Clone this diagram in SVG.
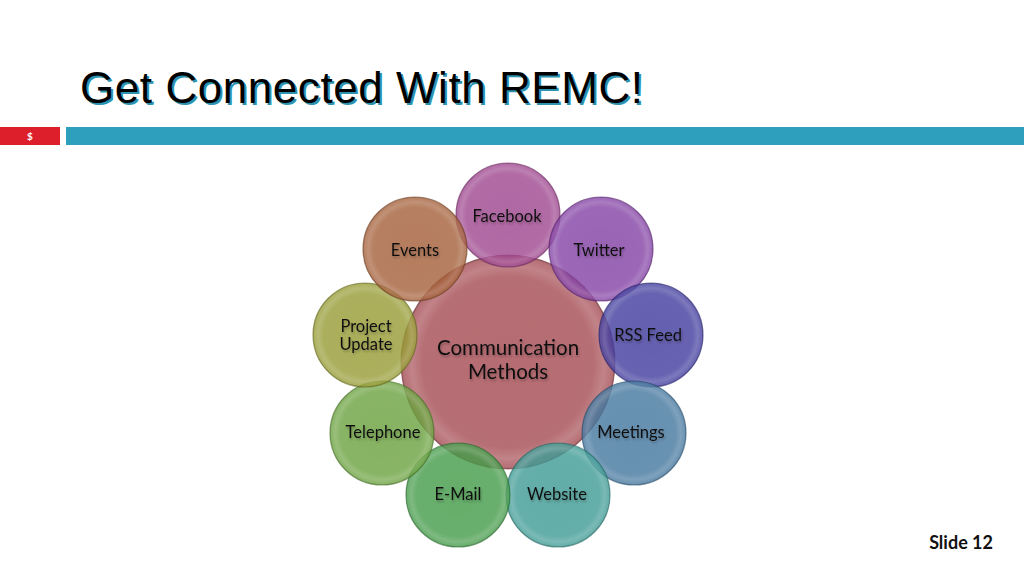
<svg xmlns="http://www.w3.org/2000/svg" width="1024" height="576" viewBox="0 0 1024 576">
<defs>
<radialGradient id="glass" cx="0.5" cy="0.5" r="0.5">
<stop offset="0" stop-color="#fff" stop-opacity="0"/>
<stop offset="0.8" stop-color="#fff" stop-opacity="0.02"/>
<stop offset="0.9" stop-color="#fff" stop-opacity="0.16"/>
<stop offset="0.97" stop-color="#fff" stop-opacity="0.05"/>
<stop offset="1" stop-color="#000" stop-opacity="0.15"/>
</radialGradient>
<filter id="glow" x="-20%" y="-40%" width="140%" height="180%">
<feGaussianBlur in="SourceAlpha" stdDeviation="1.2"/>
<feOffset dx="0.5" dy="1.5" result="b"/>
<feFlood flood-color="#000" flood-opacity="0.25"/>
<feComposite in2="b" operator="in"/>
<feMerge><feMergeNode/><feMergeNode in="SourceGraphic"/></feMerge>
</filter>
</defs>
<style>
.title{font-family:"Liberation Sans",Arial,sans-serif;font-size:44px}
.lbl{font-family:Lato,"Noto Sans",sans-serif;font-size:16.5px;fill:#111;text-anchor:middle}
.ctr{font-family:Lato,"Noto Sans",sans-serif;font-size:20.5px;fill:#111;text-anchor:middle}
.c{fill-opacity:0.8;stroke-width:1.2;stroke-opacity:0.6}
.g{fill:url(#glass)}
</style>
<rect width="1024" height="576" fill="#fff"/>
<g id="title">
<text class="title" x="82" y="105" fill="#2E93AE" textLength="563">Get Connected With REMC!</text>
<text class="title" x="80" y="103" fill="#000" textLength="563">Get Connected With REMC!</text>
</g>
<g id="bars">
<rect x="0" y="127" width="60" height="18" fill="#DC1F2B"/>
<text x="30" y="140" font-family="Lato,'Noto Sans',sans-serif" font-size="10" font-weight="bold" fill="#fff" text-anchor="middle">$</text>
<rect x="66" y="127" width="958" height="18" fill="#2EA0BE"/>
</g>
<g id="center">
<circle class="c" cx="508" cy="362" r="107" fill="#A2474F" stroke="#7a3038"/>
<circle class="g" cx="508" cy="362" r="107"/>
</g>
<g id="facebook">
<circle class="c" cx="508" cy="215" r="52" fill="#9C428C" stroke="#702a64"/>
<circle class="g" cx="508" cy="215" r="52"/>
</g>
<g id="twitter">
<circle class="c" cx="601" cy="249" r="52" fill="#813DA2" stroke="#5a2575"/>
<circle class="g" cx="601" cy="249" r="52"/>
</g>
<g id="rss">
<circle class="c" cx="651" cy="335" r="52" fill="#3D389C" stroke="#272370"/>
<circle class="g" cx="651" cy="335" r="52"/>
</g>
<g id="meetings">
<circle class="c" cx="634" cy="433" r="52" fill="#40749C" stroke="#2a5070"/>
<circle class="g" cx="634" cy="433" r="52"/>
</g>
<g id="website">
<circle class="c" cx="558" cy="495" r="52" fill="#3B9992" stroke="#276e69"/>
<circle class="g" cx="558" cy="495" r="52"/>
</g>
<g id="email">
<circle class="c" cx="458" cy="495" r="52" fill="#409945" stroke="#2a6e2e"/>
<circle class="g" cx="458" cy="495" r="52"/>
</g>
<g id="telephone">
<circle class="c" cx="382" cy="433" r="52" fill="#68A03B" stroke="#4a7528"/>
<circle class="g" cx="382" cy="433" r="52"/>
</g>
<g id="project">
<circle class="c" cx="365" cy="335" r="52" fill="#959A31" stroke="#6c7020"/>
<circle class="g" cx="365" cy="335" r="52"/>
</g>
<g id="events">
<circle class="c" cx="415" cy="249" r="52" fill="#A35D36" stroke="#774224"/>
<circle class="g" cx="415" cy="249" r="52"/>
</g>
<g id="labels" filter="url(#glow)">
<text class="ctr" x="508" y="355">Communication</text>
<text class="ctr" x="508" y="379">Methods</text>
<text class="lbl" x="507" y="222">Facebook</text>
<text class="lbl" x="599" y="256">Twitter</text>
<text class="lbl" x="648" y="341">RSS Feed</text>
<text class="lbl" x="631" y="438">Meetings</text>
<text class="lbl" x="557" y="500">Website</text>
<text class="lbl" x="458" y="500">E-Mail</text>
<text class="lbl" x="383" y="438">Telephone</text>
<text class="lbl" x="366" y="332">Project</text>
<text class="lbl" x="366" y="350">Update</text>
<text class="lbl" x="415" y="256">Events</text>
</g>
<text id="slide" x="993" y="549" font-family="Lato,'Noto Sans',sans-serif" font-size="18" font-weight="bold" fill="#111" text-anchor="end">Slide 12</text>
</svg>
